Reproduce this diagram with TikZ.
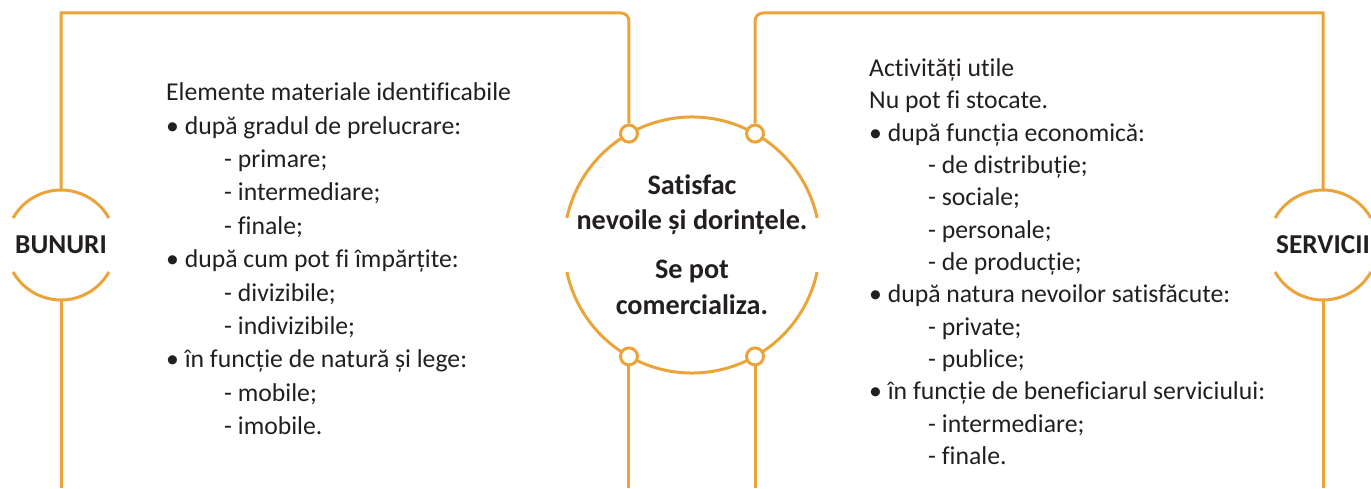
\documentclass[tikz,border=0pt]{standalone}
\usepackage{fontspec}
\setmainfont{Carlito}[Ligatures={NoCommon}]
\usetikzlibrary{backgrounds}
\definecolor{org}{RGB}{235,164,58}
\definecolor{ink}{RGB}{35,31,32}
\begin{document}
\begin{tikzpicture}[x=1pt,y=1pt,
  wire/.style={draw=org,line width=3pt},
  dot/.style={circle,draw=org,line width=3pt,fill=white,minimum size=17pt,inner sep=0pt},
  ring/.style={circle,inner sep=0pt,text=ink,font=\fontsize{27.3}{32}\selectfont\bfseries},
  bodytxt/.style={anchor=base west,inner sep=0pt,text=ink,font=\fontsize{25.7}{30}\selectfont},
  boldtxt/.style={anchor=base,inner sep=0pt,text=ink,font=\fontsize{28.2}{33}\selectfont\bfseries}]
\useasboundingbox (0,0) rectangle (1371,488);

% circles
\node[ring,minimum size=110pt] (bun) at (61,243) {BUNURI};
\node[ring,minimum size=110pt] (ser) at (1323,243) {SERVICII};
\node[circle,inner sep=0pt,minimum size=256pt] (mid) at (692,243) {};

\node[dot] (d1) at ([shift={(119.5:128pt)}]mid.center) {};
\node[dot] (d2) at ([shift={(60.5:128pt)}]mid.center) {};
\node[dot] (d3) at ([shift={(240.5:128pt)}]mid.center) {};
\node[dot] (d4) at ([shift={(299.5:128pt)}]mid.center) {};

\coordinate (tl) at (61,475);
\coordinate (tr) at (1323,475);
\coordinate (bot) at (0,0);
\coordinate (c1) at (d1.north |- tl);
\coordinate (c2) at (d2.north |- tl);

\begin{scope}[on background layer]
  \draw[wire] ([shift={(29.4:55pt)}]bun.center) arc[start angle=29.4,end angle=150.6,radius=55pt];
  \draw[wire] ([shift={(209.4:55pt)}]bun.center) arc[start angle=209.4,end angle=330.6,radius=55pt];
  \draw[wire] ([shift={(29.4:55pt)}]ser.center) arc[start angle=29.4,end angle=150.6,radius=55pt];
  \draw[wire] ([shift={(209.4:55pt)}]ser.center) arc[start angle=209.4,end angle=330.6,radius=55pt];
  \draw[wire] ([shift={(12.2:128pt)}]mid.center) arc[start angle=12.2,end angle=167.8,radius=128pt];
  \draw[wire] ([shift={(192.2:128pt)}]mid.center) arc[start angle=192.2,end angle=347.8,radius=128pt];

  \draw[wire] (bun.north) -- (tl) -- ([xshift=-8pt]c1) arc[start angle=90,end angle=0,radius=8pt] -- (d1.north);
  \draw[wire] (d2.north) -- ([yshift=-8pt]c2) arc[start angle=180,end angle=90,radius=8pt] -- (tr) -- (ser.north);
  \draw[wire] (bun.south) -- (bun.south |- bot);
  \draw[wire] (ser.south) -- (ser.south |- bot);
  \draw[wire] (d3.south) -- (d3.south |- bot);
  \draw[wire] (d4.south) -- (d4.south |- bot);
\end{scope}

% centre text
\node[boldtxt] (c1t) at (692,293) {Satisfac};
\node[boldtxt] (c2t) at (692,258) {nevoile și dorințele.};
\node[boldtxt] (c3t) at (692,209) {Se pot};
\node[boldtxt] (c4t) at (692,174) {comercializa.};

% left column
\foreach \i/\xx/\t in {
  0/166/{Elemente materiale identificabile},
  1/166/{• după gradul de prelucrare:},
  2/224/{- primare;},
  3/224/{- intermediare;},
  4/224/{- finale;},
  5/166/{• după cum pot fi împărțite:},
  6/224/{- divizibile;},
  7/224/{- indivizibile;},
  8/166/{• în funcție de natură și lege:},
  9/224/{- mobile;},
  10/224/{- imobile.}}
  \node[bodytxt] (L\i) at (\xx,387.3-33.4*\i) {\t};

% right column
\foreach \i/\xx/\t in {
  0/869/{Activități utile},
  1/869/{Nu pot fi stocate.},
  2/869/{• după funcția economică:},
  3/928/{- de distribuție;},
  4/928/{- sociale;},
  5/928/{- personale;},
  6/928/{- de producție;},
  7/869/{• după natura nevoilor satisfăcute:},
  8/928/{- private;},
  9/928/{- publice;},
  10/869/{• în funcție de beneficiarul serviciului:},
  11/928/{- intermediare;},
  12/928/{- finale.}}
  \node[bodytxt] (R\i) at (\xx,411.3-32.3*\i) {\t};
\end{tikzpicture}
\end{document}
